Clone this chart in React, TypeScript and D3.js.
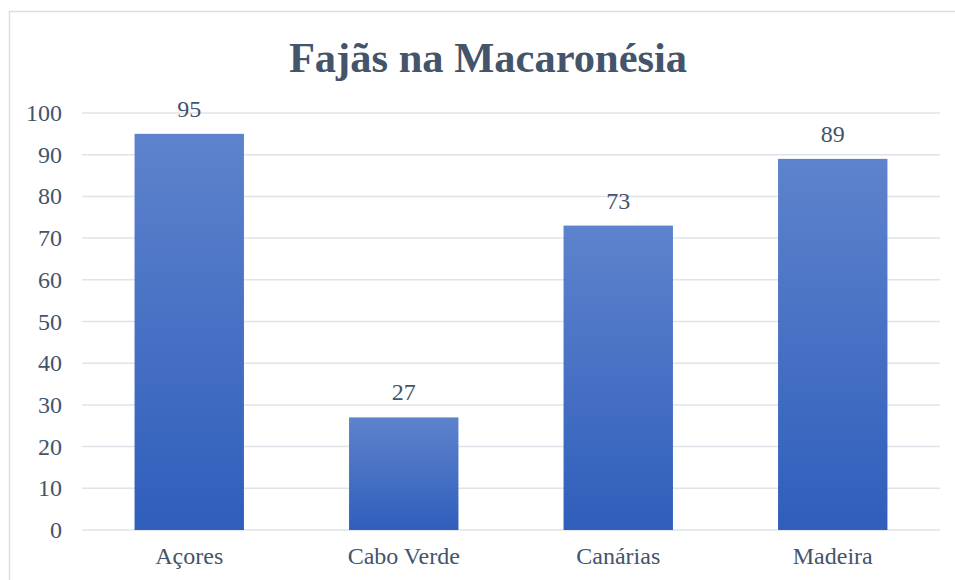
import { useRef, useEffect } from 'react';
import * as d3 from 'd3';

const categories = ['Açores', 'Cabo Verde', 'Canárias', 'Madeira'];
const values = [95, 27, 73, 89];
const yTicks = [0, 10, 20, 30, 40, 50, 60, 70, 80, 90, 100];
const title = 'Fajãs na Macaronésia';

const W = 955;
const H = 580;
const textColor = '#44546a';
const font = "'Liberation Serif', 'Times New Roman', serif";

export default function App() {
  const svgRef = useRef<SVGSVGElement>(null);

  function renderChart() {
    const svg = d3.select(svgRef.current);
    svg.selectAll('*').remove();
    svg.attr('width', W).attr('height', H);

    const margin = { left: 82, right: 15, top: 113, bottom: 50 };

    const x = d3
      .scaleBand()
      .domain(categories)
      .range([margin.left, W - margin.right])
      .paddingInner(0.49)
      .paddingOuter(0.245);

    const y = d3.scaleLinear().domain([0, 100]).range([H - margin.bottom, margin.top]);

    const defs = svg.append('defs');
    const grad = defs
      .append('linearGradient')
      .attr('id', 'barGrad')
      .attr('x1', 0)
      .attr('y1', 0)
      .attr('x2', 0)
      .attr('y2', 1);
    grad.append('stop').attr('offset', '0%').attr('stop-color', '#5e83cd');
    grad.append('stop').attr('offset', '100%').attr('stop-color', '#2f5ebb');

    // chart border
    svg
      .append('rect')
      .attr('x', 9.5)
      .attr('y', 11.5)
      .attr('width', W)
      .attr('height', H)
      .attr('fill', 'white')
      .attr('stroke', '#d9dde5')
      .attr('stroke-width', 1.5);

    svg
      .append('text')
      .text(title)
      .attr('x', 488)
      .attr('y', 72)
      .attr('text-anchor', 'middle')
      .style('font-family', font)
      .attr('font-weight', 'bold')
      .style('font-size', '42.5px')
      .attr('fill', textColor);

    // gridlines
    svg
      .append('g')
      .selectAll('line')
      .data(yTicks)
      .join('line')
      .attr('x1', margin.left)
      .attr('x2', W - margin.right)
      .attr('y1', (d) => y(d))
      .attr('y2', (d) => y(d))
      .attr('stroke', '#dfe3ea')
      .attr('stroke-width', 1.5);

    svg
      .append('g')
      .selectAll('text')
      .data(yTicks)
      .join('text')
      .text((d) => d)
      .attr('x', 62)
      .attr('y', (d) => y(d) + 8)
      .attr('text-anchor', 'end')
      .style('font-family', font)
      .style('font-size', '24px')
      .attr('fill', textColor);

    const bars = svg
      .append('g')
      .selectAll('g')
      .data(values)
      .join('g');

    bars
      .append('rect')
      .attr('x', (d, i) => x(categories[i]) as number)
      .attr('y', (d) => y(d))
      .attr('width', x.bandwidth())
      .attr('height', (d) => y(0) - y(d))
      .attr('fill', 'url(#barGrad)');

    bars
      .append('text')
      .text((d) => d)
      .attr('x', (d, i) => (x(categories[i]) as number) + x.bandwidth() / 2)
      .attr('y', (d) => y(d) - 17)
      .attr('text-anchor', 'middle')
      .style('font-family', font)
      .style('font-size', '24px')
      .attr('fill', textColor);

    svg
      .append('g')
      .selectAll('text')
      .data(categories)
      .join('text')
      .text((d) => d)
      .attr('x', (d) => (x(d) as number) + x.bandwidth() / 2)
      .attr('y', 564)
      .attr('text-anchor', 'middle')
      .style('font-family', font)
      .style('font-size', '24px')
      .attr('fill', textColor);
  }

  useEffect(() => {
    renderChart();
  }, []);

  return (
    <div style={{ position: 'absolute', left: 0, top: 0 }}>
      <svg ref={svgRef} style={{ display: 'block' }} />
    </div>
  );
}
